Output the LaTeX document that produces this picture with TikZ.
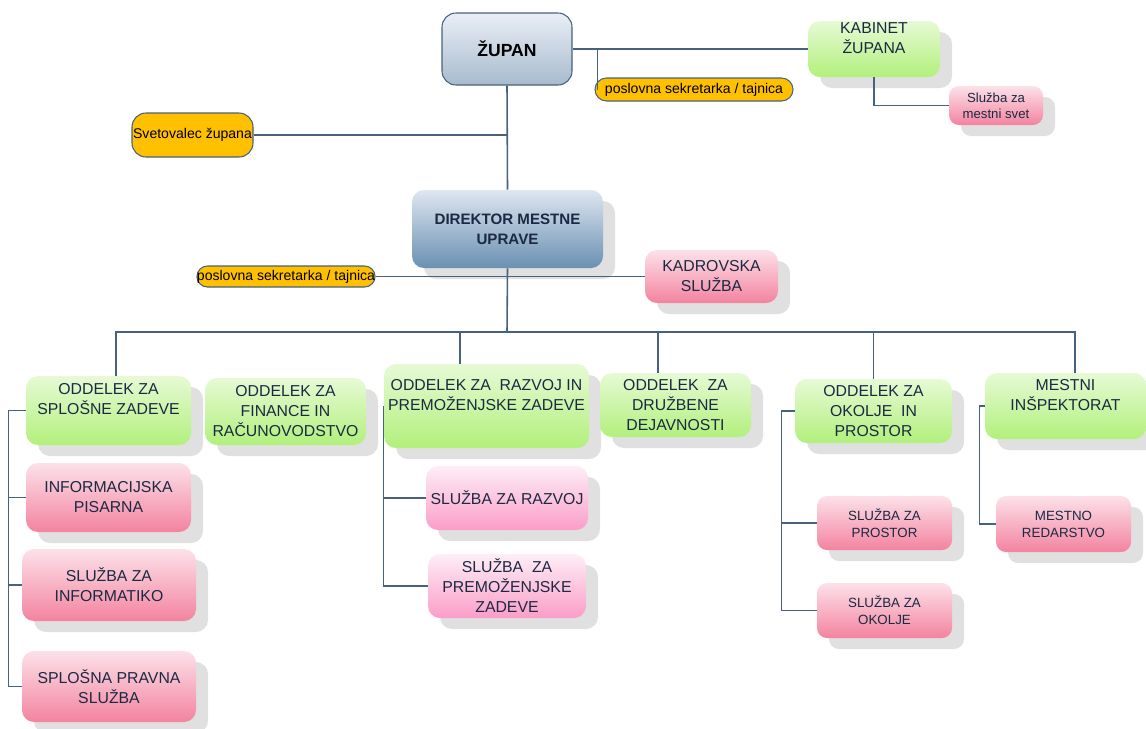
\documentclass[tikz,border=0pt]{standalone}
\usepackage{fontspec}
\setmainfont{Liberation Sans}
\usetikzlibrary{shadows}
\usetikzlibrary{positioning}

\definecolor{navy}{HTML}{1B2942}
\definecolor{linecol}{HTML}{46627C}
\definecolor{shadowgray}{HTML}{E0E0E0}
\definecolor{gtop}{HTML}{E6FAD5}
\definecolor{gbot}{HTML}{B2F07C}
\definecolor{ptop}{HTML}{FCE1E9}
\definecolor{pbot}{HTML}{F3839F}
\definecolor{qtop}{HTML}{FDEEF6}
\definecolor{qbot}{HTML}{FB9DC8}
\definecolor{ztop}{HTML}{EAEEF6}
\definecolor{zbot}{HTML}{A7BBCD}
\definecolor{dtop}{HTML}{DFE6F0}
\definecolor{dbot}{HTML}{6990B2}
\definecolor{orangef}{HTML}{FFC000}

\tikzset{
    px/.style 2 args={minimum width=#1*0.02cm, minimum height=#2*0.02cm},
    box/.style={inner sep=0pt, align=center, text=navy, rounded corners=0.24cm,
        drop shadow={shadow xshift=0.24cm, shadow yshift=-0.22cm, fill=shadowgray, opacity=1}},
    odd/.style={box, top color=gtop, bottom color=gbot, font=\fontsize{9}{11.4}\selectfont},
    sluzba/.style={box, top color=ptop, bottom color=pbot, font=\fontsize{9}{11.4}\selectfont},
    sluzbaq/.style={box, top color=qtop, bottom color=qbot, font=\fontsize{9}{11.4}\selectfont},
    small/.style={font=\fontsize{7.6}{9.7}\selectfont, rounded corners=0.2cm},
    tajnica/.style={inner sep=0pt, fill=orangef, draw=linecol, line width=0.6pt,
        font=\fontsize{8}{10}\selectfont},
    link/.style={draw=linecol, line width=0.9pt}
}

\begin{document}
\begin{tikzpicture}[x=0.02cm, y=-0.02cm]
    \useasboundingbox (0,0) rectangle (1146,728);

    % vrh
    \node[px={130}{72}, inner sep=0pt, rounded corners=0.28cm, top color=ztop, bottom color=zbot,
        draw=linecol, line width=0.6pt, font=\bfseries\fontsize{10}{12}\selectfont] (zupan) at (507,49) {ŽUPAN};
    \node[tajnica, px={198}{23}, rounded corners=0.23cm] (sek1) at (694,89.5) {poslovna sekretarka / tajnica};
    \node[odd, px={132}{56}, text depth=0.42cm] (kabinet) at (874,49) {KABINET\\ŽUPANA};
    \node[sluzba, small, px={94}{39}, font=\fontsize{7.5}{9.2}\selectfont] (svet) at (996,105.5) {Služba za\\mestni svet};
    \node[tajnica, px={121}{44}, rounded corners=0.28cm] (svetovalec) at (192.5,135) {Svetovalec župana};

    \node[box, px={191}{78}, top color=dtop, bottom color=dbot,
        font=\bfseries\fontsize{8.6}{11.4}\selectfont] (direktor) at (507.5,229) {DIREKTOR MESTNE\\UPRAVE};
    \node[tajnica, px={178}{21}, rounded corners=0.21cm] (sek2) at (286,276.5) {poslovna sekretarka / tajnica};
    \node[sluzba, px={133}{53}] (kadrovska) at (711.5,276.5) {KADROVSKA\\SLUŽBA};

    % oddelki
    \node[odd, px={165}{69}, text depth=0.46cm] (splosne) at (108.5,410.5) {ODDELEK ZA\\SPLOŠNE ZADEVE};
    \node[odd, px={161}{67}] (finance) at (285.5,411.5) {ODDELEK ZA\\FINANCE IN\\RAČUNOVODSTVO};
    \node[odd, px={205}{84}, text depth=0.46cm] (razvoj) at (486.5,406) {ODDELEK ZA \ RAZVOJ IN\\PREMOŽENJSKE ZADEVE};
    \node[odd, px={151}{64}] (druzbene) at (675.5,405) {ODDELEK \ ZA\\DRUŽBENE\\DEJAVNOSTI};
    \node[odd, px={157}{64}] (okolje) at (873.5,411) {ODDELEK ZA\\OKOLJE \ IN\\PROSTOR};
    \node[odd, px={161}{66}, text depth=0.46cm] (inspektorat) at (1065.5,406) {MESTNI\\INŠPEKTORAT};

    % sluzbe
    \node[sluzba, px={165}{69}] (info) at (108.5,497.5) {INFORMACIJSKA\\PISARNA};
    \node[sluzba, px={174}{72}] (informatika) at (109,585) {SLUŽBA ZA\\INFORMATIKO};
    \node[sluzba, px={174}{71}] (pravna) at (109,686.5) {SPLOŠNA PRAVNA\\SLUŽBA};
    \node[sluzbaq, px={162}{64}] (rsluzba) at (507,498) {SLUŽBA ZA RAZVOJ};
    \node[sluzbaq, px={158}{64}] (premoz) at (507,586) {SLUŽBA \ ZA\\PREMOŽENJSKE\\ZADEVE};
    \node[sluzba, small, px={135}{54}] (prostor) at (884.5,523) {SLUŽBA ZA\\PROSTOR};
    \node[sluzba, small, px={135}{55}] (okoljes) at (884.5,610.5) {SLUŽBA ZA\\OKOLJE};
    \node[sluzba, small, px={135}{56}] (redarstvo) at (1063.5,524) {MESTNO\\REDARSTVO};

    % povezave
    \draw[link] (zupan.east) -- (kabinet.west);
    \draw[link] ([xshift=0.06cm]sek1.west) |- (zupan.east);
    \draw[link] (kabinet.south) |- (svet.west);
    \draw[link] (zupan.south) -- (direktor.north);
    \draw[link] (svetovalec.east) -- (svetovalec.east -| zupan.south);
    \draw[link] (sek2.east) -- (kadrovska.west);

    \coordinate (bus) at (507,332);
    \draw[link] (direktor.south) -- (bus);
    \foreach \n/\dx in {splosne/0.15, razvoj/-0.53, druzbene/-0.35, okolje/0, inspektorat/0.19}
        \draw[link] (bus) -| ([xshift=\dx cm]\n.north);

    \draw[link] (splosne.west) -- ++(-17,0) |- (pravna.west);
    \draw[link] (info.west) -- ++(-17,0);
    \draw[link] (informatika.west) -- ++(-13,0);
    \draw[link] (razvoj.west) |- (premoz.west);
    \draw[link] (razvoj.west |- rsluzba.west) -- (rsluzba.west);
    \draw[link] (okolje.west) -- ++(-13,0) |- (okoljes.west);
    \draw[link] (prostor.west) -- ++(-35,0);
    \draw[link] (inspektorat.west) -- ++(-5,0) |- (redarstvo.west);
\end{tikzpicture}
\end{document}
